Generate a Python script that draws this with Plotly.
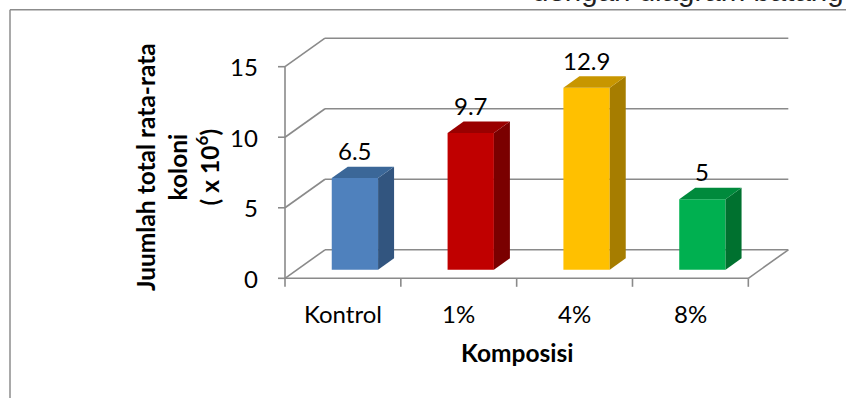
import plotly.graph_objects as go

# ---------------- data ----------------
categories = ["Kontrol", "1%", "4%", "8%"]
values = [6.5, 9.7, 12.9, 5]
value_labels = ["6.5", "9.7", "12.9", "5"]
y_ticks = [0, 5, 10, 15]
y_tick_labels = ["0", "5", "10", "15"]
front_colors = ["#4F81BD", "#C00000", "#FFC000", "#00B050"]
top_colors = ["#3B6798", "#990000", "#C89600", "#008A3C"]
side_colors = ["#32557F", "#7A0000", "#A67D00", "#00712F"]

# ---------------- geometry (pixel scale of the oblique projection) ----------------
W, H = 846, 398
PX_X = 115.83      # px per category
PX_Y = 14.107      # px per value unit
X0_PX = 285.0      # px of front-left corner
Y0_PX = 278.3      # px of floor front edge
x_range = [-X0_PX / PX_X, (W - X0_PX) / PX_X]
y_range = [-(H - Y0_PX) / PX_Y, Y0_PX / PX_Y]
DX = 40.0 / PX_X   # full depth, x shift in category units
DY = 28.5 / PX_Y   # full depth, y shift in value units
F0 = 0.30          # depth fraction of bar front
FD = 0.40          # bar depth fraction
BAR_W = 0.40
GRID = "#8A8A8A"
FONT = "Lato"
n = len(categories)

fig = go.Figure()

# ---------------- walls / floor / axes as shapes (below traces) ----------------
shapes = []
def seg(x0, y0, x1, y1, color=GRID, width=1.6):
    shapes.append(dict(type="line", xref="x", yref="y", x0=x0, y0=y0, x1=x1, y1=y1,
                       line=dict(color=color, width=width), layer="below"))

for t in y_ticks:
    seg(0, t, DX, t + DY)                 # side-wall oblique
    seg(DX, t + DY, n + DX, t + DY)       # back-wall gridline
    seg(-7 / PX_X, t, 0, t)               # tick
seg(0, 0, n, 0)                           # floor front edge
seg(n, 0, n + DX, DY)                     # floor right edge
seg(0, 0, 0, max(y_ticks))                # front value axis
for k in range(n + 1):
    seg(k, 0, k, -8.5 / PX_Y)             # category ticks

# chart frame
shapes.append(dict(type="line", xref="paper", yref="paper", x0=10 / W, x1=10 / W,
                   y0=0, y1=1 - 9.7 / H, line=dict(color="#8C8C8C", width=1.5)))
shapes.append(dict(type="line", xref="paper", yref="paper", x0=10 / W, x1=1,
                   y0=1 - 9.7 / H, y1=1 - 9.7 / H, line=dict(color="#8C8C8C", width=1.5)))

# ---------------- bars ----------------
base = F0 * DY
bar_x = [i + 0.5 + F0 * DX for i in range(n)]
fig.add_trace(go.Bar(x=bar_x, y=values, base=[base] * n, width=BAR_W,
                     marker=dict(color=front_colors, line=dict(width=0)),
                     hoverinfo="skip", showlegend=False))

ddx, ddy = FD * DX, FD * DY
for i, v in enumerate(values):
    xl = bar_x[i] - BAR_W / 2
    xr = bar_x[i] + BAR_W / 2
    top = v + base
    # side face
    fig.add_trace(go.Scatter(
        x=[xr, xr, xr + ddx, xr + ddx, xr], y=[base, top, top + ddy, base + ddy, base],
        mode="lines", fill="toself", fillcolor=side_colors[i],
        line=dict(width=0, color=side_colors[i]), hoverinfo="skip", showlegend=False))
    # top face
    fig.add_trace(go.Scatter(
        x=[xl, xr, xr + ddx, xl + ddx, xl], y=[top, top, top + ddy, top + ddy, top],
        mode="lines", fill="toself", fillcolor=top_colors[i],
        line=dict(width=0, color=top_colors[i]), hoverinfo="skip", showlegend=False))

# ---------------- texts ----------------
ann = []
for t, lab in zip(y_ticks, y_tick_labels):
    ann.append(dict(x=-(X0_PX - 260) / PX_X, y=t, xref="x", yref="y", text=lab,
                    xanchor="right", yanchor="middle", showarrow=False,
                    font=dict(family=FONT, size=24, color="#000")))
for i, c in enumerate(categories):
    ann.append(dict(x=i + 0.5, y=-(313.5 - Y0_PX) / PX_Y, xref="x", yref="y", text=c,
                    xanchor="center", yanchor="middle", showarrow=False,
                    font=dict(family=FONT, size=24, color="#000")))
for i, (v, lab) in enumerate(zip(values, value_labels)):
    ann.append(dict(x=bar_x[i], y=v + base + 27.3 / PX_Y, xref="x", yref="y", text=lab,
                    xanchor="center", yanchor="middle", showarrow=False,
                    font=dict(family=FONT, size=24, color="#000")))
ann.append(dict(x=516.7 / W, y=1 - 352 / H, xref="paper", yref="paper", text="<b>Komposisi</b>",
                xanchor="center", yanchor="middle", showarrow=False,
                font=dict(family=FONT, size=24.5, color="#000")))
ann.append(dict(x=177 / W, y=1 - 167 / H, xref="paper", yref="paper",
                text="<b>Juumlah total rata-rata<br>koloni<br>( x 10<sup>6</sup>)</b>",
                textangle=-90, xanchor="center", yanchor="middle", showarrow=False,
                font=dict(family=FONT, size=24.5, color="#000")))
ann.append(dict(x=1, y=1 - 8.7 / H, xref="paper", yref="paper",
                text="dengan diagram batang", xanchor="right", yanchor="bottom",
                showarrow=False, font=dict(family="Liberation Sans", size=29.5, color="#222")))

fig.update_layout(
    width=W, height=H, autosize=False,
    margin=dict(l=0, r=0, t=0, b=0, pad=0),
    paper_bgcolor="white", plot_bgcolor="white",
    xaxis=dict(range=x_range, visible=False, fixedrange=True),
    yaxis=dict(range=y_range, visible=False, fixedrange=True),
    shapes=shapes, annotations=ann, showlegend=False, barmode="overlay",
)

fig.write_html("out.html")
